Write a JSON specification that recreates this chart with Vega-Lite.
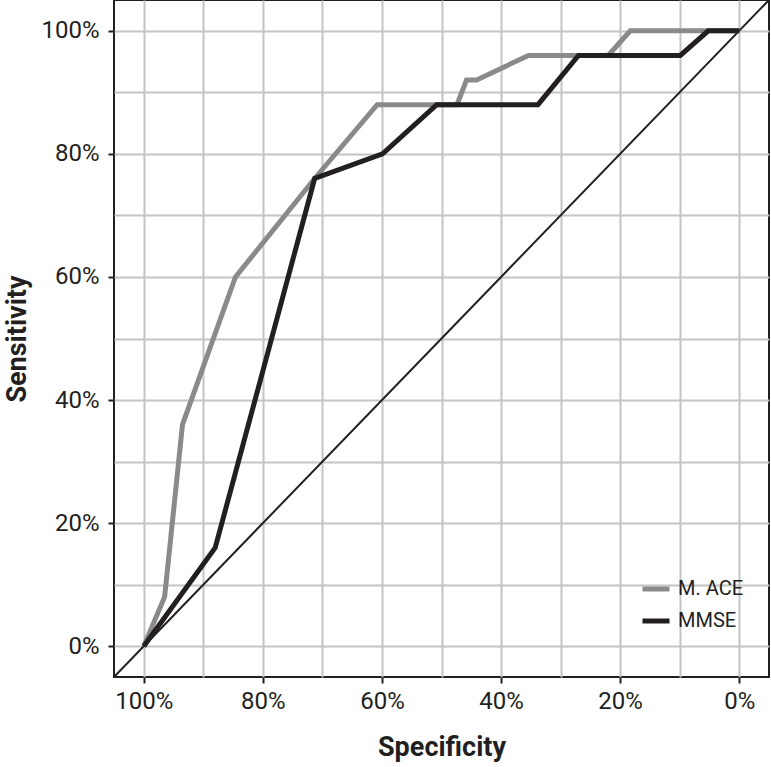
{
  "$schema": "https://vega.github.io/schema/vega-lite/v6.json",
  "width": 655,
  "height": 677,
  "autosize": {"type": "none"},
  "padding": {"left": 114, "top": 0, "right": 2, "bottom": 90},
  "background": "white",
  "config": {
    "view": {"stroke": "#231f20", "strokeWidth": 2},
    "font": "Roboto"
  },
  "datasets": {
    "roc": [
      {"series": "M. ACE", "spec": 100, "sens": 0},
      {"series": "M. ACE", "spec": 96.5, "sens": 8},
      {"series": "M. ACE", "spec": 93.5, "sens": 36},
      {"series": "M. ACE", "spec": 84.6, "sens": 60},
      {"series": "M. ACE", "spec": 71.3, "sens": 76},
      {"series": "M. ACE", "spec": 60.8, "sens": 88},
      {"series": "M. ACE", "spec": 47.4, "sens": 88},
      {"series": "M. ACE", "spec": 45.8, "sens": 92},
      {"series": "M. ACE", "spec": 44.1, "sens": 92},
      {"series": "M. ACE", "spec": 35.4, "sens": 96},
      {"series": "M. ACE", "spec": 22.0, "sens": 96},
      {"series": "M. ACE", "spec": 18.3, "sens": 100},
      {"series": "M. ACE", "spec": 0, "sens": 100},
      {"series": "MMSE", "spec": 100, "sens": 0},
      {"series": "MMSE", "spec": 88.0, "sens": 16},
      {"series": "MMSE", "spec": 71.3, "sens": 76},
      {"series": "MMSE", "spec": 59.9, "sens": 80},
      {"series": "MMSE", "spec": 50.8, "sens": 88},
      {"series": "MMSE", "spec": 33.8, "sens": 88},
      {"series": "MMSE", "spec": 27.0, "sens": 96},
      {"series": "MMSE", "spec": 9.9, "sens": 96},
      {"series": "MMSE", "spec": 5.2, "sens": 100},
      {"series": "MMSE", "spec": 0, "sens": 100}
    ],
    "diag": [
      {"spec": 105, "sens": -5},
      {"spec": -5, "sens": 105}
    ]
  },
  "layer": [
    {
      "data": {"name": "diag"},
      "mark": {"type": "line", "color": "#231f20", "strokeWidth": 2, "clip": true},
      "encoding": {
        "x": {
          "field": "spec", "type": "quantitative",
          "scale": {"domain": [-5, 105], "reverse": true, "nice": false, "zero": false},
          "axis": {
            "values": [0, 10, 20, 30, 40, 50, 60, 70, 80, 90, 100],
            "labelExpr": "datum.value % 20 === 0 ? datum.value + '%' : ''",
            "title": "Specificity",
            "titleFont": "Roboto",
            "titleFontSize": 27,
            "titleFontWeight": "bold",
            "titleColor": "#231f20",
            "titlePadding": 21,
            "labelFont": "Roboto",
            "labelFontSize": 24,
            "labelColor": "#231f20",
            "labelPadding": 6,
            "labelFlush": false,
            "labelOverlap": false,
            "domain": false,
            "grid": true,
            "gridColor": "#c4c4c4",
            "gridWidth": 2,
            "tickColor": "#231f20",
            "tickWidth": 2,
            "tickSize": 6,
            "tickOpacity": {"condition": {"test": "datum.value % 20 === 0", "value": 1}, "value": 0}
          }
        },
        "y": {
          "field": "sens", "type": "quantitative",
          "scale": {"domain": [-5, 105], "nice": false, "zero": false},
          "axis": {
            "values": [0, 10, 20, 30, 40, 50, 60, 70, 80, 90, 100],
            "labelExpr": "datum.value % 20 === 0 ? datum.value + '%' : ''",
            "title": "Sensitivity",
            "titleFont": "Roboto",
            "titleFontSize": 27,
            "titleFontWeight": "bold",
            "titleColor": "#231f20",
            "titlePadding": 9,
            "labelFont": "Roboto",
            "labelFontSize": 24,
            "labelColor": "#231f20",
            "labelPadding": 9,
            "labelFlush": false,
            "labelOverlap": false,
            "domain": false,
            "grid": true,
            "gridColor": "#c4c4c4",
            "gridWidth": 2,
            "tickColor": "#231f20",
            "tickWidth": 2,
            "tickSize": 6,
            "tickOpacity": {"condition": {"test": "datum.value % 20 === 0", "value": 1}, "value": 0}
          }
        }
      }
    },
    {
      "data": {"name": "roc"},
      "mark": {"type": "line", "strokeWidth": 5, "clip": true},
      "encoding": {
        "x": {"field": "spec", "type": "quantitative"},
        "y": {"field": "sens", "type": "quantitative"},
        "color": {
          "field": "series", "type": "nominal",
          "scale": {"domain": ["M. ACE", "MMSE"], "range": ["#8a8a8a", "#231f20"]},
          "legend": {
            "title": null,
            "orient": "none",
            "legendX": 526,
            "legendY": 573,
            "symbolType": "stroke",
            "symbolSize": 729,
            "symbolStrokeWidth": 5,
            "labelFont": "Roboto",
            "labelFontSize": 20,
            "labelColor": "#231f20",
            "labelOffset": 6,
            "rowPadding": 6,
            "symbolOffset": 0
          }
        }
      }
    }
  ]
}
